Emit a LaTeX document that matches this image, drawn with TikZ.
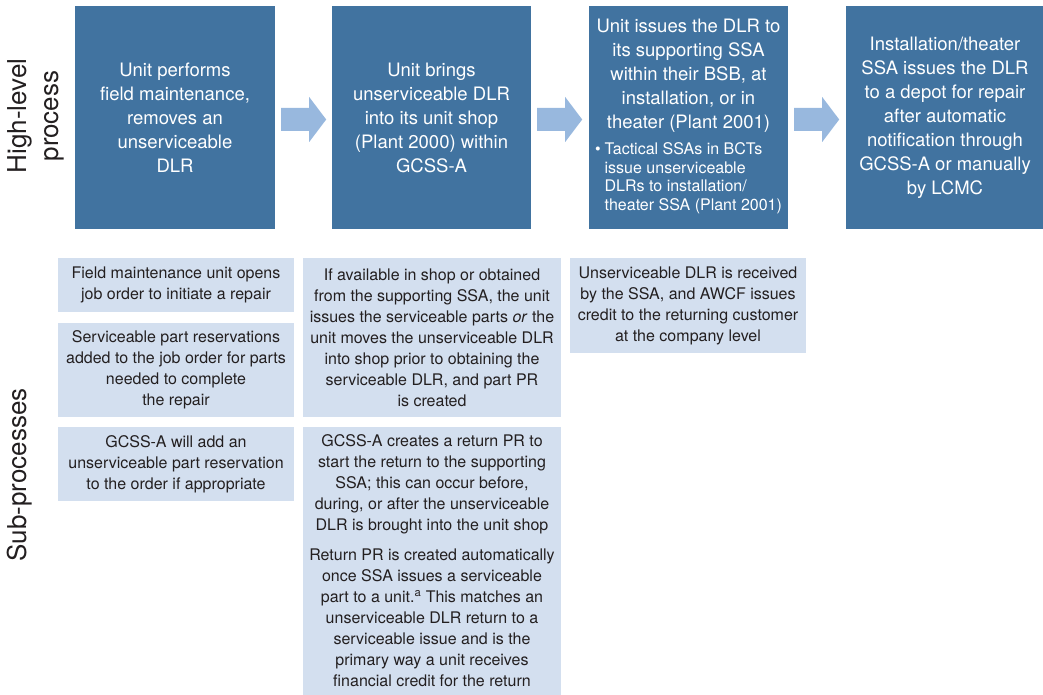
\documentclass[tikz,border=0pt]{standalone}
\usepackage{fontspec}
\setmainfont{TeX Gyre Heros}
\definecolor{boxblue}{RGB}{65,115,160}
\definecolor{arrowblue}{RGB}{152,184,222}
\definecolor{subblue}{RGB}{211,223,239}
\definecolor{textgray}{RGB}{35,31,32}
\tikzset{
  hbox/.style={fill=boxblue, text=white, minimum width=199, minimum height=223, inner sep=0pt,
    align=center, font=\fontsize{18.5}{24}\selectfont},
  subbox/.style={fill=subblue, text=textgray, minimum width=236, inner sep=0pt,
    align=center, font=\fontsize{16}{21}\selectfont},
  widesub/.style={subbox, minimum width=258},
  rowlabel/.style={rotate=90, align=center, text=textgray, inner sep=0pt, font=\fontsize{26}{32}\selectfont},
  blockarrow/.style={fill=arrowblue}
}
\newcommand{\blockarr}[2]{% #1 left node, #2 right node
  \path (#1.east) ++(6,0) coordinate (#1-as);
  \fill[blockarrow] (#1-as |- 0,108) -- ++(28,0) -- ++(0,-11) -- ++(17,22.5) -- ++(-17,22.5) -- ++(0,-11) -- ++(-28,0) -- cycle;
}
\begin{document}
\begin{tikzpicture}[x=1pt,y=-1pt]
\useasboundingbox (0,0) rectangle (1043,695);
% labels
\node[rowlabel] (hl) at (36,116) {High-level\\process};
\node[rowlabel] (sp) at (20,475) {Sub-processes};
% high level boxes
\node[hbox, minimum width=200] (b1) at (175,117.5) {Unit performs\\field maintenance,\\removes an\\unserviceable\\DLR};
\node[hbox] (b2) at (431.5,117.5) {Unit brings\\unserviceable DLR\\into its unit shop\\(Plant 2000) within\\GCSS-A};
\node[hbox] (b3) at (688.5,117.5) {Unit issues the DLR to\\its supporting SSA\\within their BSB, at\\installation, or in\\theater (Plant 2001)\\[2pt]{\fontsize{16}{18.7}\selectfont\textbullet\hspace{4pt}\begin{tabular}[t]{@{}l@{}}Tactical SSAs in BCTs\\issue unserviceable\\DLRs to installation/\\theater SSA (Plant 2001)\end{tabular}}};
\node[hbox] (b4) at (945,117.5) {Installation/theater\\SSA issues the DLR\\to a depot for repair\\after automatic\\notification through\\GCSS-A or manually\\by LCMC};
% arrows
\blockarr{b1}{b2}
\blockarr{b2}{b3}
\blockarr{b3}{b4}
% sub-processes
\node[subbox, minimum height=54] (s11) at (176,285) {Field maintenance unit opens\\job order to initiate a repair};
\node[subbox, minimum height=94] (s12) at (176,370) {Serviceable part reservations\\added to the job order for parts\\needed to complete\\the repair};
\node[subbox, minimum height=74] (s13) at (176,464) {GCSS-A will add an\\unserviceable part reservation\\to the order if appropriate};
\node[widesub, minimum height=159] (s21) at (432,337.5) {If available in shop or obtained\\from the supporting SSA, the unit\\issues the serviceable parts \textit{or} the\\unit moves the unserviceable DLR\\into shop prior to obtaining the\\serviceable DLR, and part PR\\is created};
\node[widesub, minimum height=114] (s22) at (432,484) {GCSS-A creates a return PR to\\start the return to the supporting\\SSA; this can occur before,\\during, or after the unserviceable\\DLR is brought into the unit shop};
\node[widesub, minimum height=154.5] (s23) at (432,618) {Return PR is created automatically\\once SSA issues a serviceable\\part to a unit.\textsuperscript{a} This matches an\\unserviceable DLR return to a\\serviceable issue and is the\\primary way a unit receives\\financial credit for the return};
\node[subbox, minimum height=95] (s31) at (688,305.5) {Unserviceable DLR is received\\by the SSA, and AWCF issues\\credit to the returning customer\\at the company level};
\end{tikzpicture}
\end{document}
